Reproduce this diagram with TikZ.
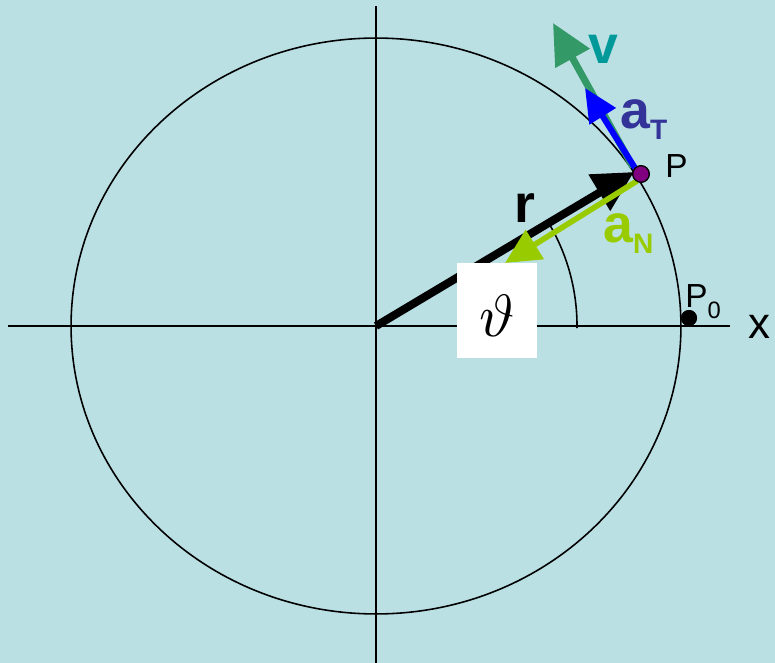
\documentclass[tikz,border=0pt]{standalone}
\usepackage{graphicx}
\usepackage{fontspec}
\setmainfont{Liberation Sans}
\usepackage{tikz}
\usetikzlibrary{arrows.meta, positioning}
\definecolor{bgblue}{RGB}{186,224,228}
\definecolor{vgreen}{RGB}{51,153,102}
\definecolor{vteal}{RGB}{0,153,153}
\definecolor{atblue}{RGB}{0,0,255}
\definecolor{atlabel}{RGB}{51,51,153}
\definecolor{angreen}{RGB}{153,204,0}
\definecolor{ppurple}{RGB}{128,0,128}
\newcommand{\sublbl}[3]{#1\raisebox{#3}{\fontsize{16}{16}\selectfont #2}}

\begin{document}
\begin{tikzpicture}[
    x=0.02cm, y=-0.02cm,
    axis/.style={line width=0.9pt},
    lbl/.style={inner sep=0pt, font=\fontsize{30.5}{30}\selectfont\bfseries},
    ptxt/.style={inner sep=0pt, font=\fontsize{19}{19}\selectfont},
    dot/.style={circle, draw=black, line width=0.7pt, fill=#1, inner sep=0pt, minimum size=0.33cm},
    whitebox/.style={fill=white, inner sep=0pt, minimum width=1.6cm, minimum height=1.9cm},
]
    % Background
    \path[use as bounding box, fill=bgblue] (0,0) rectangle (775,663);

    % Axes and circle
    \coordinate (O) at (376,326);
    \coordinate (xend) at (730,326);
    \coordinate (xstart) at (8,326);
    \coordinate (ytop) at (376,6);
    \coordinate (ybot) at (376,663);
    \draw[axis] (xstart) -- (xend);
    \draw[axis] (ytop) -- (ybot);
    \draw[axis] (O) ellipse [x radius=6.1cm, y radius=5.76cm];

    % Angle
    \draw[axis] (O) ++(201,2) arc[start angle=-0.6, end angle=30, radius=4.02cm];

    % Points
    \node[dot=ppurple] (P) at (641,174) {};
    \node[dot=black, draw=none, minimum size=0.32cm] (P0) at (689,318) {};

    % Position vector
    \draw[line width=4.6pt, -{Triangle[length=23pt, width=23pt]}] (O) -- (634,172);

    % Angle box
    \node[whitebox] (thetabox) at (497,310.5) {};
    \node[inner sep=0pt] (theta) at (497,316) {\scalebox{3.4}{$\vartheta$}};

    % Velocity and accelerations
    \draw[vgreen, line width=4pt, -{Triangle[length=23pt, width=21.5pt]}] (P) ++(-8,-7) -- (553,23);
    \draw[atblue, line width=3.4pt, -{Triangle[length=19pt, width=17pt]}] (P) ++(-6,-6) -- (585,88);
    \draw[angreen, line width=3.2pt, -{Triangle[length=20pt, width=19pt]}] (P) ++(-4,7) -- (505,263);
    \node[dot=ppurple] at (P) {};
    \node[dot=black, draw=none, minimum size=0.32cm] at (P0) {};

    % Labels
    \node[lbl, text=vteal, anchor=base west] (vlab) at (588,63) {v};
    \node[lbl, text=atlabel, anchor=base west] (atlab) at (620,128) {\sublbl{a}{T}{-6.8pt}};
    \node[lbl, anchor=base west] (rlab) at (514,222) {r};
    \node[lbl, text=angreen, anchor=base west] (anlab) at (603,242) {\sublbl{a}{N}{-6.3pt}};
    \node[ptxt, anchor=base west] (Plab) at (665,177) {P};
    \node[ptxt, anchor=base west] (P0lab) at (685,307) {P\raisebox{-6.3pt}{\fontsize{13.5}{13.5}\selectfont 0}};
    \node[inner sep=0pt, anchor=base west, font=\fontsize{25}{25}\selectfont] (xlab) at (748,338) {x};
\end{tikzpicture}
\end{document}
